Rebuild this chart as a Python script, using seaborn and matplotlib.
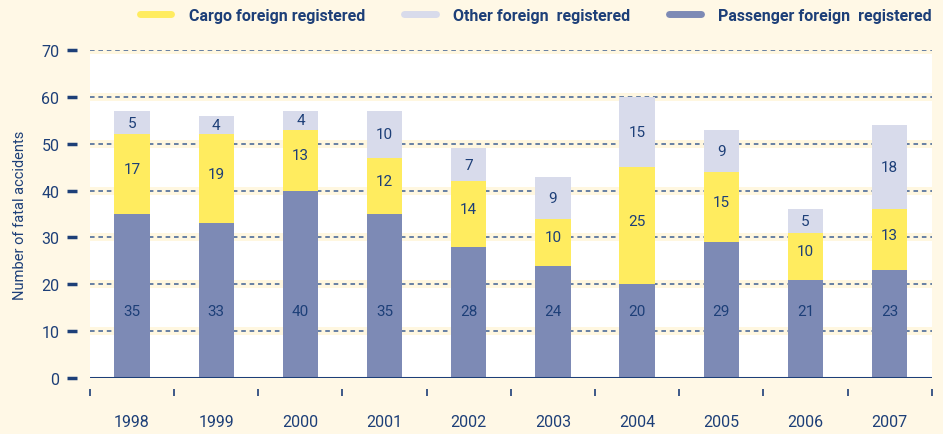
import matplotlib
matplotlib.use('Agg')
import numpy as np
import pandas as pd
import matplotlib.pyplot as plt
from matplotlib.lines import Line2D
from matplotlib.transforms import blended_transform_factory
import seaborn as sns

years = ['1998', '1999', '2000', '2001', '2002', '2003', '2004', '2005', '2006', '2007']
passenger = [35, 33, 40, 35, 28, 24, 20, 29, 21, 23]
cargo = [17, 19, 13, 12, 14, 10, 25, 15, 10, 13]
other = [5, 4, 4, 10, 7, 9, 15, 9, 5, 18]
yticks = [0, 10, 20, 30, 40, 50, 60, 70]

C_PASS = '#7d8ab5'
C_CARGO = '#ffec5f'
C_OTHER = '#d8dbeb'
NAVY = '#1d3f78'
BG = '#fff8e6'

df = pd.DataFrame({'year': years, 'passenger': passenger, 'cargo': cargo, 'other': other})
df['p_c'] = df['passenger'] + df['cargo']
df['total'] = df['p_c'] + df['other']

sns.set_theme(style='white')
plt.rcParams['font.family'] = ['Roboto', 'DejaVu Sans']

fig = plt.figure(figsize=(9.43, 4.35), dpi=100, facecolor=BG)
ax = fig.add_axes([0.0954, 0.1287, 0.8926, 0.7541])
ax.set_facecolor('white')

# faint cream bands behind the gridlines
for t in yticks[1:]:
    ax.axhspan(t - 0.85, t + 0.85, color='#fff7e0', zorder=0, lw=0)
    ax.axhline(t, color='#3d5f92', lw=1.1, ls=(0, (3, 2.5)), zorder=1)

# stacked bars: draw totals first, then overlay the lower parts
for col, c in [('total', C_OTHER), ('p_c', C_CARGO), ('passenger', C_PASS)]:
    sns.barplot(data=df, x='year', y=col, color=c, width=0.42,
                saturation=1, ax=ax, zorder=2, linewidth=0)

x = np.arange(len(years))
for i in x:
    ax.text(i, 14.3, str(passenger[i]), ha='center', va='center',
            color=NAVY, fontsize=11, zorder=4)
    ax.text(i, passenger[i] + cargo[i] / 2 + 1, str(cargo[i]), ha='center', va='center',
            color=NAVY, fontsize=11, zorder=4)
    ax.text(i, df['p_c'][i] + other[i] / 2, str(other[i]), ha='center', va='center',
            color=NAVY, fontsize=11, zorder=4)

ax.axhline(0, color=NAVY, lw=2.2, zorder=5)
ax.set_xlim(-0.5, len(years) - 0.5)
ax.set_ylim(0, 70)
ax.set_yticks(yticks)
ax.set_xlabel('')
ax.set_ylabel('Number of fatal accidents', color=NAVY, fontsize=10.5, labelpad=10)
for s in ax.spines.values():
    s.set_visible(False)
ax.spines['left'].set_position(('outward', 9))
ax.tick_params(axis='y', length=7, width=2.5, color=NAVY, labelcolor=NAVY,
               labelsize=11.5, pad=6, left=True)
ax.tick_params(axis='x', length=0, labelcolor=NAVY, labelsize=11.5, pad=26)

# small separators under the axis between years
trans = blended_transform_factory(ax.transData, ax.transAxes)
ax.vlines(np.arange(len(years) + 1) - 0.5, -0.055, -0.035, color=NAVY, lw=1.2,
          transform=trans, clip_on=False)

handles = [Line2D([], [], color=C_CARGO, lw=5),
           Line2D([], [], color=C_OTHER, lw=5),
           Line2D([], [], color=C_PASS, lw=5)]
labels = ['Cargo foreign registered', 'Other foreign  registered', 'Passenger foreign  registered']
leg = fig.legend(handles, labels, loc='center', bbox_to_anchor=(0.568, 0.962), ncol=3,
                 frameon=False, handlelength=2.0, handletextpad=1.1, columnspacing=2.4,
                 prop={'weight': 'bold', 'size': 11.5})
for t in leg.get_texts():
    t.set_color(NAVY)

fig.savefig('out.png', dpi=100, facecolor=BG)
